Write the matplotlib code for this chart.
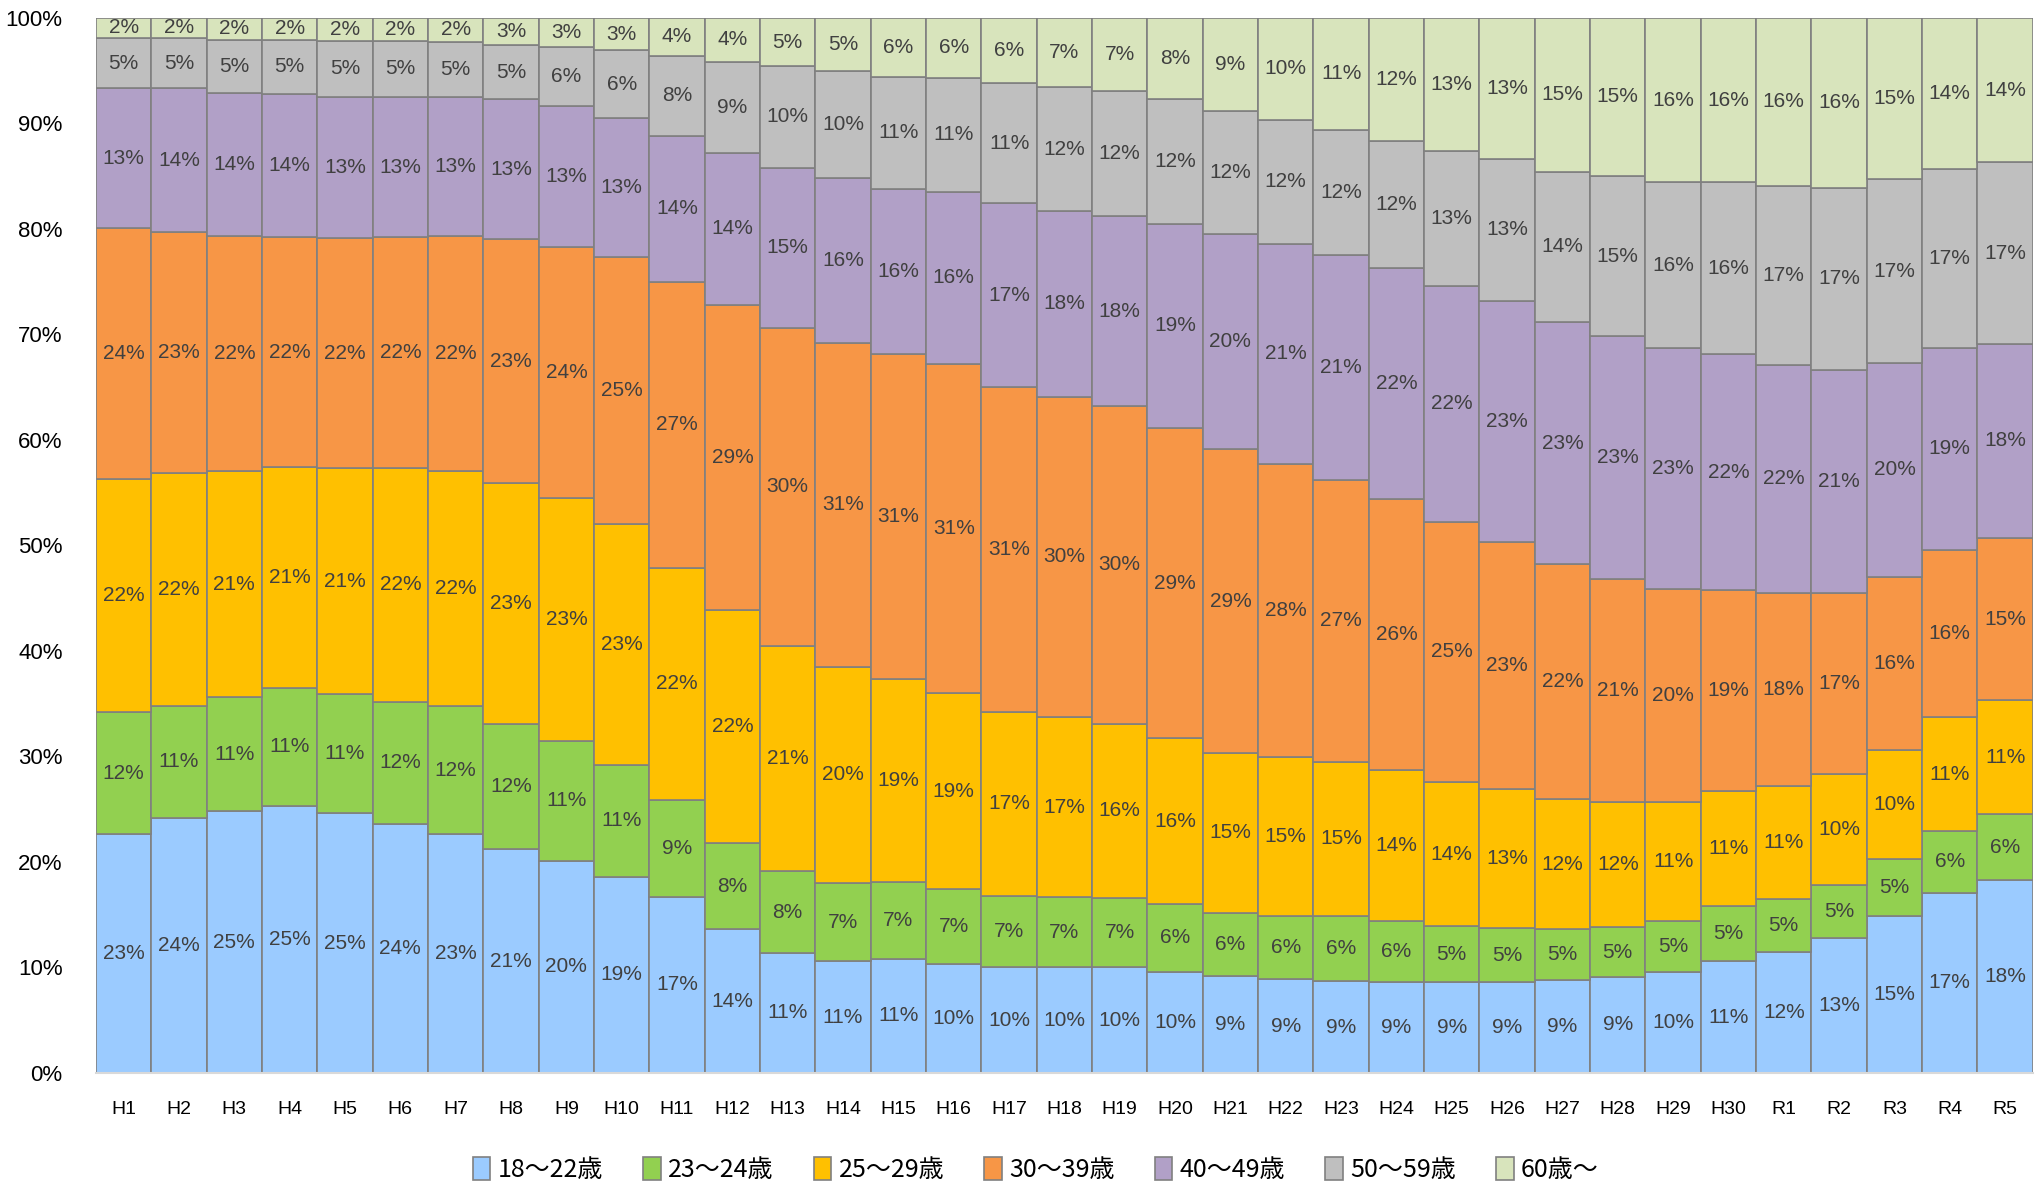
from __future__ import annotations

import matplotlib

matplotlib.use("Agg")
import matplotlib.pyplot as plt
import numpy as np

years = [f"H{i}" for i in range(1, 31)] + [f"R{i}" for i in range(1, 6)]

age_groups = ["18〜22歳", "23〜24歳", "25〜29歳", "30〜39歳", "40〜49歳", "50〜59歳", "60歳〜"]

# shares (%) per age group
age_18_22 = [22.6, 24.2, 24.8, 25.3, 24.6, 23.6, 22.6, 21.2, 20.1, 18.6, 16.7, 13.6,
             11.4, 10.6, 10.8, 10.3, 10.0, 10.0, 10.0, 9.6, 9.2, 8.9, 8.7, 8.6,
             8.6, 8.6, 8.8, 9.1, 9.6, 10.6, 11.5, 12.8, 14.9, 17.1, 18.3]
age_23_24 = [11.6, 10.6, 10.8, 11.2, 11.3, 11.6, 12.2, 11.9, 11.4, 10.6, 9.2, 8.2,
             7.7, 7.4, 7.3, 7.1, 6.8, 6.7, 6.6, 6.4, 6.0, 6.0, 6.2, 5.8,
             5.3, 5.1, 4.8, 4.7, 4.8, 5.2, 5.0, 5.0, 5.4, 5.8, 6.2]
age_25_29 = [22.1, 22.1, 21.4, 20.9, 21.4, 22.1, 22.2, 22.8, 23.0, 22.8, 22.0, 22.1,
             21.4, 20.5, 19.2, 18.6, 17.4, 17.0, 16.5, 15.7, 15.1, 15.0, 14.6, 14.3,
             13.7, 13.2, 12.4, 11.9, 11.3, 10.9, 10.7, 10.5, 10.3, 10.8, 10.8]
age_30_39 = [23.8, 22.8, 22.3, 21.8, 21.8, 21.9, 22.3, 23.1, 23.8, 25.3, 27.1, 28.9,
             30.1, 30.7, 30.8, 31.2, 30.8, 30.4, 30.1, 29.4, 28.8, 27.8, 26.7, 25.7,
             24.6, 23.4, 22.2, 21.1, 20.2, 19.1, 18.3, 17.2, 16.4, 15.9, 15.4]
age_40_49 = [13.2, 13.6, 13.6, 13.6, 13.4, 13.3, 13.2, 13.3, 13.3, 13.2, 13.8, 14.4,
             15.2, 15.6, 15.7, 16.3, 17.4, 17.6, 18.0, 19.4, 20.4, 20.9, 21.3, 21.9,
             22.4, 22.9, 23.0, 23.0, 22.8, 22.3, 21.6, 21.1, 20.3, 19.1, 18.4]
age_50_59 = [4.8, 4.8, 5.0, 5.1, 5.3, 5.3, 5.2, 5.1, 5.6, 6.4, 7.6, 8.6,
             9.6, 10.2, 10.6, 10.8, 11.4, 11.7, 11.9, 11.8, 11.7, 11.7, 11.9, 12.0,
             12.8, 13.4, 14.2, 15.2, 15.7, 16.3, 17.0, 17.3, 17.4, 17.0, 17.2]
age_60_up = [1.9, 1.9, 2.1, 2.1, 2.2, 2.2, 2.3, 2.6, 2.8, 3.1, 3.6, 4.2,
             4.6, 5.0, 5.6, 5.7, 6.2, 6.6, 6.9, 7.7, 8.8, 9.7, 10.6, 11.7,
             12.6, 13.4, 14.6, 15.0, 15.6, 15.6, 15.9, 16.1, 15.3, 14.3, 13.7]

colors = ["#9BCBFF", "#92D050", "#FFC000", "#F79646", "#B1A0C7", "#BFBFBF", "#D8E4BC"]

NUM_FONT = ["Liberation Sans Narrow", "Liberation Sans", "DejaVu Sans"]
JP_FONT = ["Liberation Sans Narrow", "Noto Sans CJK JP", "DejaVu Sans"]


def plot_age_share(output_path: str = "out.png") -> None:
    series = [age_18_22, age_23_24, age_25_29, age_30_39, age_40_49, age_50_59, age_60_up]
    x = np.arange(len(years))

    fig = plt.figure(figsize=(20.43, 11.83), dpi=100)
    ax = fig.add_axes([0.047, 0.093, 0.948, 0.892])

    bottom = np.zeros(len(years))
    for name, values, color in zip(age_groups, series, colors):
        values = np.asarray(values, dtype=float)
        ax.bar(x, values, width=1.0, bottom=bottom, color=color,
               edgecolor="#808080", linewidth=1.2, label=name)
        for xi, b, v in zip(x, bottom, values):
            ax.text(xi, b + v / 2, f"{round(v):d}%", ha="center", va="center",
                    fontsize=15, color="#404040", family=NUM_FONT)
        bottom += values

    ax.set_xlim(-0.5, len(years) - 0.5)
    ax.set_ylim(0, 100)
    ax.set_yticks(np.arange(0, 101, 10))
    ax.set_yticklabels([f"{t}%" for t in range(0, 101, 10)], family=NUM_FONT, fontsize=16)
    ax.set_xticks(x)
    ax.set_xticklabels(years, family=NUM_FONT, fontsize=14)
    ax.tick_params(axis="y", length=0, pad=24)
    ax.tick_params(axis="x", length=0, pad=20)

    for side in ("top", "right", "left"):
        ax.spines[side].set_visible(False)
    ax.spines["bottom"].set_color("#D9D9D9")
    ax.spines["bottom"].set_linewidth(1.5)

    handles, labels = ax.get_legend_handles_labels()
    fig.legend(handles, labels, loc="center", bbox_to_anchor=(0.507, 0.011), ncol=7,
               frameon=False, prop={"family": JP_FONT, "size": 18},
               handlelength=0.7, handleheight=1.0, handletextpad=0.3, columnspacing=1.6)

    fig.savefig(output_path, dpi=100)
    plt.close(fig)


def main() -> None:
    plot_age_share("out.png")


if __name__ == "__main__":
    main()
